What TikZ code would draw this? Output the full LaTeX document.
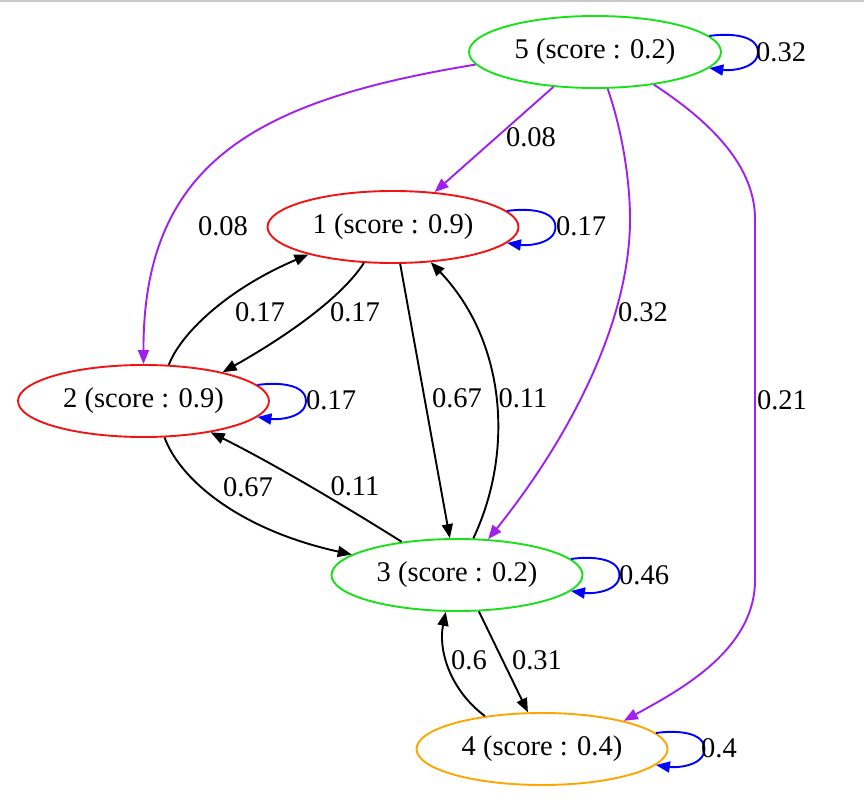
\documentclass[tikz,border=0pt]{standalone}
\usepackage{fontspec}
\setmainfont{Liberation Serif}
\usetikzlibrary{arrows.meta,calc,shapes.geometric}
\definecolor{gvgreen}{RGB}{25,225,25}
\definecolor{gvred}{RGB}{240,20,20}
\definecolor{gvorange}{RGB}{255,165,0}
\definecolor{gvpurple}{RGB}{160,32,240}
\definecolor{gvblue}{RGB}{0,0,255}
\definecolor{topline}{RGB}{200,200,200}
\begin{document}
\begin{tikzpicture}[x=1pt,y=-1pt,
  state/.style={ellipse, draw, line width=1.9pt, minimum width=251pt, minimum height=72pt, inner sep=0pt, font=\fontsize{28.5}{34}\selectfont},
  lbl/.style={inner sep=0pt, font=\fontsize{28.5}{34}\selectfont},
  bedge/.style={line width=1.9pt, -{Triangle[length=14pt,width=11pt]}},
  pedge/.style={bedge, draw=gvpurple, -{Triangle[length=14pt,width=11pt,fill=gvpurple]}},
  loopedge/.style={bedge, draw=gvblue, -{Triangle[length=14pt,width=11pt,fill=gvblue]}}
]
\useasboundingbox (0,0) rectangle (864,802);
\draw[topline, line width=2pt] (0,1) -- (864,1);

% states
\node[state, draw=gvgreen, minimum width=252pt] (n5) at (595,52) {5 (score : 0.2)};
\node[state, draw=gvred] (n1) at (393,227) {1 (score : 0.9)};
\node[state, draw=gvred] (n2) at (143.5,401) {2 (score : 0.9)};
\node[state, draw=gvgreen] (n3) at (457,575) {3 (score : 0.2)};
\node[state, draw=gvorange] (n4) at (542,749) {4 (score : 0.4)};

% self loops
\foreach \n in {n5,n1,n2,n3,n4}{
  \draw[loopedge] (\n.8) .. controls ($(\n.east)+(8,-19)$) and ($(\n.east)+(36,-17)$) .. ($(\n.east)+(36,0)$)
     .. controls ($(\n.east)+(36,17)$) and ($(\n.east)+(8,19)$) .. (\n.-8);
}

% purple edges from 5
\draw[pedge] (n5.186) .. controls (260,100) and (143,160) .. (n2.north);
\draw[pedge] (n5.220.5) -- (n1.40.5);
\draw[pedge] (n5.-71.5) .. controls (622,130) and (630,180) .. (630,219)
   .. controls (630,330) and (560,450) .. (n3.49.4);
\draw[pedge] (n5.-29.4) .. controls (700,115) and (755,160) .. (755,219) -- (755,580)
   .. controls (755,650) and (680,690) .. (n4.19.9);

% black edges
\draw[bedge] (n2.55) .. controls (180,335) and (225,290) .. (n1.198);
\draw[bedge] (n1.231) .. controls (340,300) and (280,340) .. (n2.20);
\draw[bedge] (n1.-79) -- (n3.101);
\draw[bedge] (n3.66) .. controls (515,450) and (505,340) .. (n1.-43);
\draw[bedge] (n3.149) .. controls (335,500) and (270,462) .. (n2.-25.6);
\draw[bedge] (n2.-60.6) .. controls (180,480) and (240,530) .. (n3.169);
\draw[bedge] (n3.-59.4) -- (n4.111.4);
\draw[bedge] (n4.150) .. controls (450,690) and (438,650) .. (n3.-107);

% labels
\node[lbl, anchor=west] (l55) at (756,52) {0.32};
\node[lbl, anchor=west] (l11) at (556,226) {0.17};
\node[lbl, anchor=west] (l22) at (306,400) {0.17};
\node[lbl, anchor=west] (l33) at (619,575) {0.46};
\node[lbl, anchor=west] (l44) at (701,748) {0.4};
\node[lbl] (l51) at (531,137) {0.08};
\node[lbl] (l52) at (223,226) {0.08};
\node[lbl] (l53) at (643,312) {0.32};
\node[lbl] (l54) at (782,400) {0.21};
\node[lbl] (l21) at (260,312) {0.17};
\node[lbl] (l12) at (355,312) {0.17};
\node[lbl] (l13) at (457,398) {0.67};
\node[lbl] (l31) at (523,398) {0.11};
\node[lbl] (l23) at (248,487) {0.67};
\node[lbl] (l32) at (355,486) {0.11};
\node[lbl] (l43) at (469,660) {0.6};
\node[lbl] (l34) at (537,660) {0.31};
\end{tikzpicture}
\end{document}
